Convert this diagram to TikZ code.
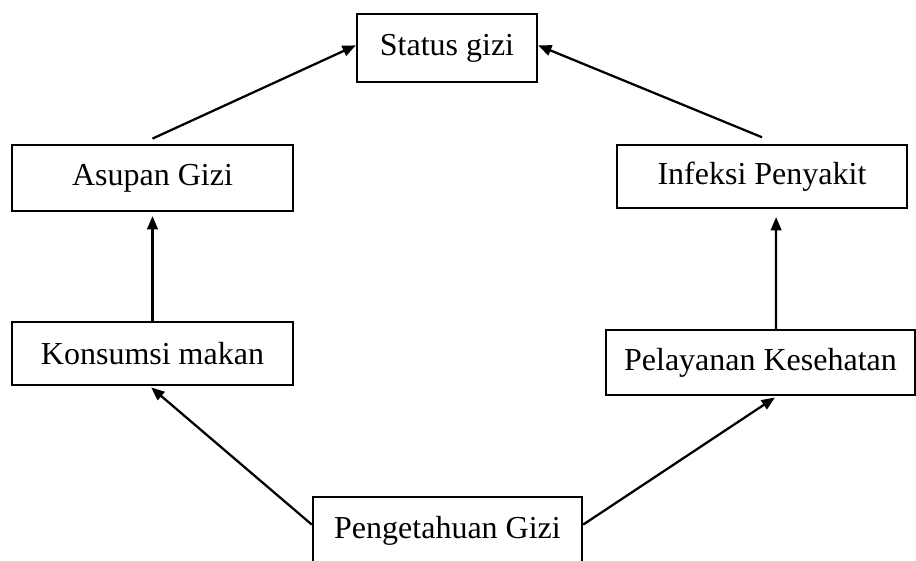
\documentclass[tikz,border=0pt]{standalone}
\usepackage{fontspec}
\setmainfont{Liberation Serif}
\usetikzlibrary{arrows.meta}

\begin{document}
\begin{tikzpicture}[x=0.375pt, y=-0.375pt,
        box/.style={draw, line width=0.85pt, inner sep=0pt, font=\fontsize{12}{14}\selectfont},
        arr/.style={-{Triangle[length=5pt, width=4pt]}, line width=0.85pt}]
            \useasboundingbox (0, 0) rectangle (916, 560);

            \node[box, minimum width=67.5pt, minimum height=25.5pt] (status) at (447, 48) {Status gizi};
            \node[box, minimum width=105.4pt, minimum height=24.7pt] (asupan) at (152.5, 178) {Asupan Gizi};
            \node[box, minimum width=108.8pt, minimum height=23.6pt] (infeksi) at (762, 176.5) {Infeksi Penyakit};
            \node[box, minimum width=105.4pt, minimum height=23.6pt] (konsumsi) at (152.5, 353.5) {Konsumsi makan};
            \node[box, minimum width=115.9pt, minimum height=24.4pt] (pelayanan) at (760.5, 362.5) {Pelayanan Kesehatan};
            \node[box, minimum width=100.9pt, minimum height=25.5pt] (pengetahuan) at (447.5, 531) {Pengetahuan Gizi};

            \draw[arr] ([yshift=2pt]asupan.north) -- ([yshift=1pt]status.west);
            \draw[arr] ([yshift=2.5pt]infeksi.north) -- ([yshift=1pt]status.east);
            \draw[arr] (konsumsi.north) -- ([yshift=-1.5pt]asupan.south);
            \draw[arr] ([xshift=5.8pt]pelayanan.north) -- ([xshift=5.3pt, yshift=-3pt]infeksi.south);
            \draw[arr] ([yshift=2.4pt]pengetahuan.west) -- ([xshift=-0.5pt, yshift=-0.5pt]konsumsi.south);
            \draw[arr] ([yshift=2.4pt]pengetahuan.east) -- ([xshift=5.4pt, yshift=-0.5pt]pelayanan.south);
        \end{tikzpicture}
\end{document}
